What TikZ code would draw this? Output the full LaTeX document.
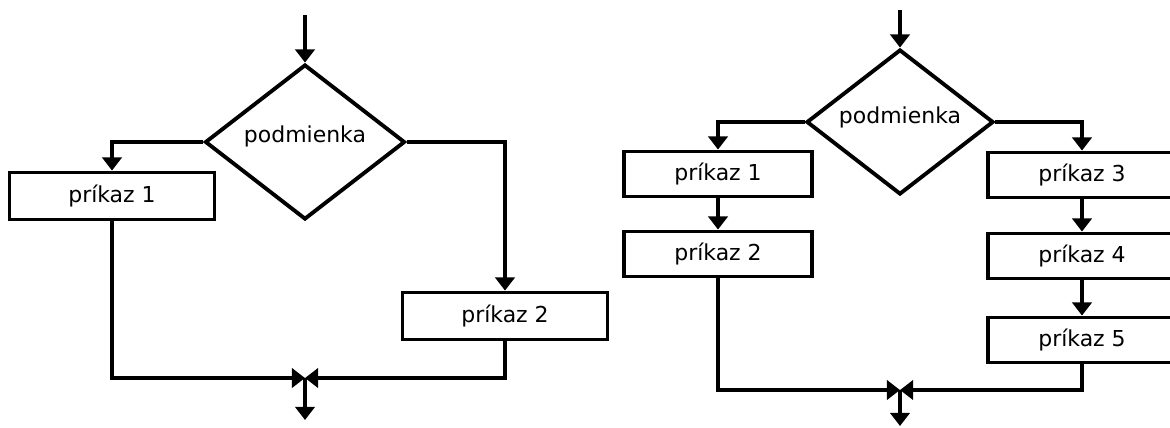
\documentclass[tikz,border=0pt]{standalone}
\usepackage{fontspec}
\setmainfont{DejaVu Sans}
\usetikzlibrary{shapes.geometric,arrows.meta}

\tikzset{
  cmd/.style={draw, rectangle, line width=2.2pt, inner sep=0pt,
    font=\fontsize{12.5}{14}\selectfont},
  cond/.style={draw, diamond, line width=2.2pt, inner sep=0pt},
  flow/.style={-{Triangle[width=11pt,length=7.5pt]}, line width=2.2pt}
}

\begin{document}
\begin{tikzpicture}[x=0.02cm, y=-0.02cm]
\useasboundingbox (0,0) rectangle (1170,427);

% left: if-else with one command per branch
\coordinate (inA) at (305,15);
\node[cond, minimum width=4cm, minimum height=3.1cm,
  label={[yshift=3pt, font=\fontsize{12.5}{14}\selectfont]center:podmienka}] (condA) at (305,142) {};
\node[cmd, minimum width=4.1cm, minimum height=0.94cm] (cmdA1) at (112,196) {príkaz 1};
\node[cmd, minimum width=4.1cm, minimum height=0.94cm] (cmdA2) at (505,316) {príkaz 2};
\coordinate (mergeA) at (305,378);
\coordinate (outA) at (305,420);

\draw[flow] (inA) -- (condA.north);
\draw[flow] (condA.west) -| (cmdA1.north);
\draw[flow] (condA.east) -| (cmdA2.north);
\draw[flow] (cmdA1.south) |- (mergeA);
\draw[flow] (cmdA2.south) |- (mergeA);
\draw[flow] (mergeA) -- (outA);

% right: if-else with command sequences
\coordinate (inB) at (900,10);
\node[cond, minimum width=3.74cm, minimum height=2.9cm,
  label={[yshift=2.5pt, font=\fontsize{12.5}{14}\selectfont]center:podmienka}] (condB) at (900,122) {};
\node[cmd, minimum width=3.76cm, minimum height=0.9cm] (cmdB1) at (718,174) {príkaz 1};
\node[cmd, minimum width=3.76cm, minimum height=0.9cm] (cmdB2) at (718,254) {príkaz 2};
\node[cmd, minimum width=3.76cm, minimum height=0.9cm] (cmdB3) at (1082,175) {príkaz 3};
\node[cmd, minimum width=3.76cm, minimum height=0.9cm] (cmdB4) at (1082,256) {príkaz 4};
\node[cmd, minimum width=3.76cm, minimum height=0.9cm] (cmdB5) at (1082,340) {príkaz 5};
\coordinate (mergeB) at (900,390);
\coordinate (outB) at (900,426);

\draw[flow] (inB) -- (condB.north);
\draw[flow] (condB.west) -| (cmdB1.north);
\draw[flow] (cmdB1) -- (cmdB2);
\draw[flow] (condB.east) -| (cmdB3.north);
\draw[flow] (cmdB3) -- (cmdB4);
\draw[flow] (cmdB4) -- (cmdB5);
\draw[flow] (cmdB2.south) |- (mergeB);
\draw[flow] (cmdB5.south) |- (mergeB);
\draw[flow] (mergeB) -- (outB);
\end{tikzpicture}
\end{document}
